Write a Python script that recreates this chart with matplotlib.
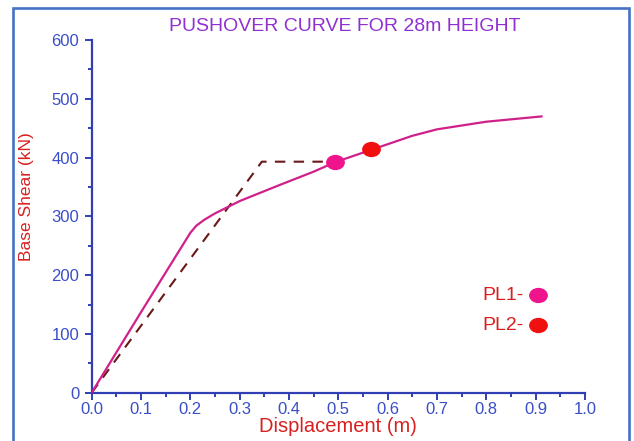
import matplotlib
matplotlib.use("Agg")
import matplotlib.pyplot as plt
from matplotlib.patches import Rectangle
from matplotlib.path import Path
from matplotlib.transforms import Affine2D
from matplotlib.ticker import MultipleLocator

plt.rcParams["font.family"] = ["Liberation Sans", "DejaVu Sans"]

# pushover curve
disp  = [0.0, 0.10, 0.20, 0.212, 0.228, 0.25, 0.30, 0.38, 0.45, 0.493, 0.566, 0.65, 0.70, 0.80, 0.912]
shear = [0, 137, 272, 284, 294, 305, 326, 353, 376, 392, 413, 437, 448, 461, 470]

# idealised bilinear curve
bil_disp  = [0.0, 0.345, 0.493]
bil_shear = [0, 393, 393]

# performance levels
pl_names = ["PL1-", "PL2-"]
pl_disp  = [0.493, 0.566]
pl_shear = [392, 414]
pl_colors = ["#f0148c", "#f01010"]
key_y = [166, 115]

BLUE = "#3040b4"
TICK_BLUE = "#3a4ec8"
RED = "#d82020"

ellipse = Path.unit_circle().transformed(Affine2D().scale(1.0, 0.8))

fig = plt.figure(figsize=(6.34, 4.41), dpi=100)
ax = fig.add_axes([0.1446, 0.1095, 0.778, 0.7998])

ax.plot(disp, shear, color="#d0208a", lw=1.6, zorder=3)
ax.plot(bil_disp, bil_shear, color="#6b1818", lw=1.5, ls=(0, (5, 4)), zorder=2)
for x, y, c in zip(pl_disp, pl_shear, pl_colors):
    ax.plot(x, y, marker=ellipse, ms=12.5, color=c, mec=c, zorder=4, ls="none")

# key at lower right
for name, y, c in zip(pl_names, key_y, pl_colors):
    ax.text(0.875, y, name, color=RED, fontsize=14, ha="right", va="center")
    ax.plot(0.905, y, marker=ellipse, ms=12.5, color=c, mec=c, ls="none")

ax.set_xlim(0, 1.0)
ax.set_ylim(0, 600)
ax.xaxis.set_major_locator(MultipleLocator(0.1))
ax.xaxis.set_minor_locator(MultipleLocator(0.05))
ax.yaxis.set_major_locator(MultipleLocator(100))
ax.yaxis.set_minor_locator(MultipleLocator(50))
ax.xaxis.set_major_formatter(plt.FormatStrFormatter("%.1f"))

for s in ["top", "right"]:
    ax.spines[s].set_visible(False)
for s in ["left", "bottom"]:
    ax.spines[s].set_color(BLUE)
    ax.spines[s].set_linewidth(1.6)

ax.tick_params(which="major", direction="out", length=5, width=1.4,
               color=BLUE, labelcolor=TICK_BLUE, labelsize=12)
ax.tick_params(which="minor", direction="out", length=2.8, width=1.4, color=BLUE)
ax.tick_params(axis="x", pad=2)
ax.tick_params(axis="y", pad=4)

ax.set_xlabel("Displacement (m)", color=RED, fontsize=14.5, labelpad=0)
ax.set_ylabel("Base Shear (kN)", color=RED, fontsize=12.5, labelpad=6)
ax.yaxis.set_label_coords(-0.117, 0.555)

fig.text(0.544, 0.941, "PUSHOVER CURVE FOR 28m HEIGHT", color="#9030d0",
         fontsize=14, ha="center", va="center")

fig.add_artist(Rectangle((0.0205, -0.05), 0.972, 1.032, transform=fig.transFigure,
                         fill=False, edgecolor="#4472c4", lw=1.9))

fig.savefig("out.png", dpi=100)
